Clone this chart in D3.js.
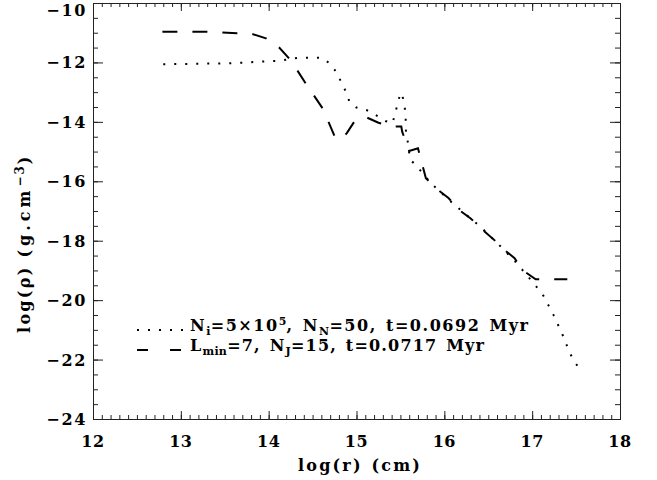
<!DOCTYPE html>
<html>
<head>
<meta charset="utf-8">
<script src="https://cdn.jsdelivr.net/npm/d3@7/dist/d3.min.js"></script>
<style>
  html, body { margin: 0; padding: 0; background: #fff; }
  text { font-family: 'DejaVu Serif', serif; font-weight: bold; fill: #000; }
</style>
</head>
<body>
<div id="chart"></div>
<script>
// log(r) / log(rho) profiles
var dotR = [12.80, 13.56, 14.13, 14.35, 14.60, 14.69, 14.77, 14.88, 14.92, 15.00, 15.12, 15.23, 15.33, 15.41,
  15.44, 15.47, 15.50, 15.53, 15.55, 15.56, 15.56, 15.58, 15.61, 15.70, 15.85, 16.11, 16.40, 16.65, 16.82,
  17.05, 17.13, 17.24, 17.34, 17.43, 17.49, 17.55]
var dotRho = [-12.06, -12.03, -11.94, -11.84, -11.84, -12.02, -12.32, -12.99, -13.32, -13.52, -13.61, -13.79, -13.97, -14.05,
  -13.71, -13.38, -13.02, -13.21, -13.54, -13.88, -14.25, -14.59, -15.26, -15.54, -16.07, -16.78, -17.50, -18.22, -18.74,
  -19.55, -19.86, -20.48, -21.12, -21.79, -22.11, -22.33]

var dashR = [12.79, 13.30, 13.64, 13.81, 13.97, 14.12, 14.25, 14.42, 14.62, 14.75, 14.81, 14.89, 14.98, 15.10, 15.25,
  15.41, 15.51, 15.52, 15.60, 15.70, 15.75, 15.79, 15.92, 16.05, 16.17, 16.30, 16.44, 16.57, 16.66, 16.80, 16.89,
  17.04, 17.21, 17.40]
var dashRho = [-10.97, -10.97, -11.02, -11.04, -11.19, -11.50, -11.92, -12.70, -13.57, -14.48, -14.61, -14.38, -13.97, -13.83, -14.03,
  -14.16, -14.16, -14.33, -14.98, -14.89, -15.45, -15.90, -16.27, -16.57, -16.97, -17.25, -17.64, -17.98, -18.25, -18.59, -18.99,
  -19.30, -19.30, -19.30]

var xTicks = [12, 13, 14, 15, 16, 17, 18]
var yTicks = [-10, -12, -14, -16, -18, -20, -22, -24]

var width = 657
var height = 480
var box = { left: 93, right: 620, top: 3, bottom: 419 }

var svg = d3.select('#chart').append('svg')
  .attr('width', width)
  .attr('height', height)

var x = d3.scaleLinear().domain([12, 18]).range([box.left, box.right])
var y = d3.scaleLinear().domain([-24, -10]).range([box.bottom, box.top])

var xMinor = d3.range(120, 181).map(function (d) { return d / 10 })
var yMinor = d3.range(-48, -19).map(function (d) { return d / 2 })

// spread the characters of a short label to a given width
function stretch (t, target) {
  var node = t.node()
  var n = node.getNumberOfChars()
  var len = node.getComputedTextLength()
  if (n > 1 && target > len) t.attr('letter-spacing', ((target - len) / (n - 1)).toFixed(2))
  return t
}

function tickAxis (axis, scale, values, size, tx, ty) {
  var g = svg.append('g')
    .attr('transform', 'translate(' + tx + ',' + ty + ')')
    .call(axis(scale).tickValues(values).tickSize(size).tickFormat(''))
  g.select('.domain').remove()
  g.selectAll('line').attr('stroke', '#222').attr('stroke-width', 1)
  return g
}

// ticks point inward on all four sides
tickAxis(d3.axisBottom, x, xMinor, -4, 0, box.bottom)
tickAxis(d3.axisBottom, x, xTicks, -8, 0, box.bottom)
tickAxis(d3.axisTop, x, xMinor, -4, 0, box.top)
tickAxis(d3.axisTop, x, xTicks, -8, 0, box.top)
tickAxis(d3.axisLeft, y, yMinor, -5, box.left, 0)
tickAxis(d3.axisLeft, y, yTicks, -10, box.left, 0)
tickAxis(d3.axisRight, y, yMinor, -5, box.right, 0)
tickAxis(d3.axisRight, y, yTicks, -10, box.right, 0)

svg.append('rect')
  .attr('x', box.left + 0.5).attr('y', box.top + 0.5)
  .attr('width', box.right - box.left).attr('height', box.bottom - box.top)
  .attr('fill', 'none').attr('stroke', '#222').attr('stroke-width', 1)

svg.append('g').selectAll('text')
  .data(xTicks)
  .enter()
  .append('text')
    .attr('x', function (d) { return x(d) })
    .attr('y', 447)
    .attr('text-anchor', 'middle')
    .attr('font-size', 16)
    .attr('letter-spacing', 0.5)
    .text(function (d) { return d })

svg.append('g').selectAll('text')
  .data(yTicks)
  .enter()
  .append('text')
    .attr('x', 87)
    .attr('y', function (d) { return Math.max(y(d) + 6, 16) })
    .attr('text-anchor', 'end')
    .attr('font-size', 16)
    .text(function (d) { return '\u2212' + Math.abs(d) })
    .each(function () { stretch(d3.select(this), 39) })

svg.append('text')
  .attr('x', 298)
  .attr('y', 471)
  .attr('font-size', 16)
  .attr('letter-spacing', 2.2)
  .attr('word-spacing', 1)
  .text('log(r) (cm)')

var yl = svg.append('text')
  .attr('transform', 'translate(30,333) rotate(-90)')
  .attr('font-size', 16)
yl.append('tspan').attr('letter-spacing', 2.3).text('log(\u03c1) ')
yl.append('tspan').attr('letter-spacing', 4).text(' (g.cm')
yl.append('tspan').attr('dy', -6).attr('font-size', 12).attr('letter-spacing', 2).text('\u22123')
yl.append('tspan').attr('dy', 6).text(')')

// curves
var line = d3.line()
  .x(function (d) { return x(d[0]) })
  .y(function (d) { return y(d[1]) })

svg.append('path')
  .datum(d3.zip(dotR, dotRho))
  .attr('d', line)
  .attr('fill', 'none')
  .attr('stroke', '#000')
  .attr('stroke-width', 2)
  .attr('stroke-dasharray', '2 9')

svg.append('path')
  .datum(d3.zip(dashR, dashRho))
  .attr('d', line)
  .attr('fill', 'none')
  .attr('stroke', '#000')
  .attr('stroke-width', 2)
  .attr('stroke-dasharray', '15 15')

// legend
svg.append('line')
  .attr('x1', 137).attr('x2', 183).attr('y1', 330).attr('y2', 330)
  .attr('stroke', '#000').attr('stroke-width', 2).attr('stroke-dasharray', '2 9')
svg.append('line')
  .attr('x1', 137).attr('x2', 181).attr('y1', 350).attr('y2', 350)
  .attr('stroke', '#000').attr('stroke-width', 2).attr('stroke-dasharray', '11 22')

function legendText (yPos, parts, spacing) {
  var t = svg.append('text').attr('x', 190).attr('y', yPos).attr('font-size', 16)
    .attr('letter-spacing', spacing).attr('word-spacing', 2)
  var shift = 0
  parts.forEach(function (p) {
    var target = p.sub ? 4 : (p.sup ? -6 : 0)
    var ts = t.append('tspan')
      .attr('dy', target - shift)
      .attr('font-size', p.sub || p.sup ? 11 : 16)
      .text(p.s)
    if (p.sub || p.sup) ts.attr('letter-spacing', 0.3)
    shift = target
  })
}

legendText(331, [
  { s: 'N' }, { s: 'i', sub: true }, { s: '=5\u00d710' }, { s: '5', sup: true },
  { s: ', N' }, { s: 'N', sub: true }, { s: '=50, t=0.0692 Myr' }
], 1.55)
legendText(351, [
  { s: 'L' }, { s: 'min', sub: true }, { s: '=7, N' }, { s: 'J', sub: true }, { s: '=15, t=0.0717 Myr' }
], 1.2)
</script>
</body>
</html>
